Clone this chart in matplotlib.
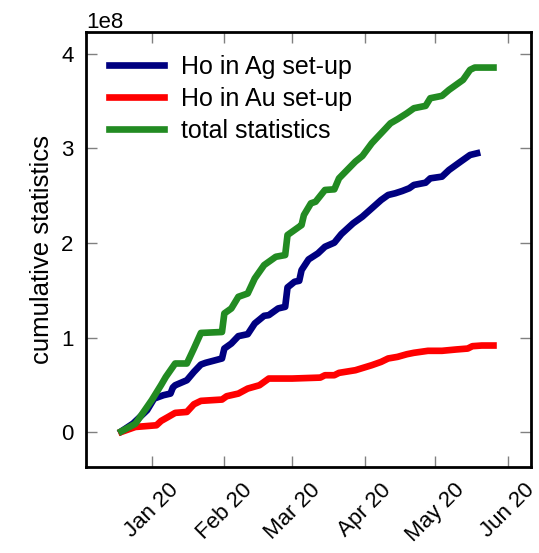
import numpy as np
import pandas as pd
import matplotlib
matplotlib.use("Agg")
from matplotlib import pyplot as plt
import matplotlib.dates as mdates

plt.rcParams['font.family'] = ['Liberation Sans', 'DejaVu Sans']

# cumulative statistics, in units of 1e8 events
ag_dates = ['2019-12-19', '2019-12-24', '2019-12-30', '2020-01-02', '2020-01-06',
            '2020-01-09', '2020-01-10', '2020-01-11', '2020-01-16', '2020-01-19',
            '2020-01-22', '2020-01-24', '2020-01-31', '2020-02-01', '2020-02-04',
            '2020-02-07', '2020-02-11', '2020-02-14', '2020-02-18', '2020-02-20',
            '2020-02-24', '2020-02-27', '2020-02-28', '2020-03-02', '2020-03-04',
            '2020-03-05', '2020-03-08', '2020-03-12', '2020-03-15', '2020-03-19',
            '2020-03-22', '2020-03-27', '2020-03-31', '2020-04-04', '2020-04-08',
            '2020-04-11', '2020-04-14', '2020-04-17', '2020-04-20', '2020-04-22',
            '2020-04-27', '2020-04-29', '2020-05-04', '2020-05-07', '2020-05-12',
            '2020-05-16', '2020-05-19']
ag_vals = [0.01, 0.092, 0.233, 0.356, 0.392, 0.409, 0.473, 0.497, 0.55, 0.638,
           0.716, 0.734, 0.78, 0.885, 0.938, 1.016, 1.037, 1.15, 1.231, 1.238,
           1.309, 1.326, 1.531, 1.591, 1.601, 1.714, 1.827, 1.891, 1.961, 2.004,
           2.095, 2.208, 2.279, 2.367, 2.455, 2.508, 2.526, 2.55, 2.579, 2.614,
           2.638, 2.684, 2.702, 2.772, 2.861, 2.931, 2.949]

au_dates = ['2019-12-19', '2019-12-25', '2020-01-03', '2020-01-05', '2020-01-08',
            '2020-01-11', '2020-01-16', '2020-01-19', '2020-01-22', '2020-01-31',
            '2020-02-02', '2020-02-07', '2020-02-11', '2020-02-16', '2020-02-20',
            '2020-03-01', '2020-03-13', '2020-03-15', '2020-03-19', '2020-03-21',
            '2020-03-28', '2020-04-04', '2020-04-08', '2020-04-11', '2020-04-15',
            '2020-04-19', '2020-04-22', '2020-04-28', '2020-05-04', '2020-05-10',
            '2020-05-15', '2020-05-17', '2020-05-21', '2020-05-26']
au_vals = [0.004, 0.056, 0.074, 0.12, 0.162, 0.205, 0.215, 0.296, 0.332, 0.346,
           0.381, 0.409, 0.462, 0.497, 0.568, 0.568, 0.578, 0.603, 0.603, 0.628,
           0.656, 0.709, 0.744, 0.78, 0.797, 0.825, 0.84, 0.861, 0.861, 0.875,
           0.885, 0.91, 0.917, 0.917]

tot_dates = ['2019-12-19', '2019-12-25', '2020-01-01', '2020-01-05', '2020-01-07',
             '2020-01-11', '2020-01-16', '2020-01-19', '2020-01-22', '2020-01-31',
             '2020-02-01', '2020-02-04', '2020-02-07', '2020-02-11', '2020-02-14',
             '2020-02-18', '2020-02-23', '2020-02-27', '2020-02-28', '2020-03-04',
             '2020-03-05', '2020-03-06', '2020-03-09', '2020-03-11', '2020-03-15',
             '2020-03-19', '2020-03-21', '2020-03-28', '2020-03-31', '2020-04-04',
             '2020-04-06', '2020-04-10', '2020-04-12', '2020-04-15', '2020-04-19',
             '2020-04-22', '2020-04-27', '2020-04-29', '2020-05-04', '2020-05-07',
             '2020-05-13', '2020-05-16', '2020-05-18', '2020-05-26']
tot_vals = [0.01, 0.09, 0.34, 0.50, 0.585, 0.727, 0.727, 0.885, 1.05, 1.06,
            1.256, 1.309, 1.432, 1.467, 1.626, 1.767, 1.855, 1.873, 2.085, 2.173,
            2.19, 2.296, 2.42, 2.437, 2.561, 2.568, 2.684, 2.861, 2.921, 3.055,
            3.108, 3.213, 3.266, 3.309, 3.372, 3.425, 3.45, 3.531, 3.556, 3.619,
            3.725, 3.831, 3.855, 3.855]

fig, ax = plt.subplots(figsize=(5.39, 5.53), dpi=100)
fig.subplots_adjust(left=0.16, right=0.985, top=0.942, bottom=0.155)

ax.plot(pd.to_datetime(ag_dates), np.array(ag_vals) * 1e8, color='navy', lw=4.8,
        label='Ho in Ag set-up')
ax.plot(pd.to_datetime(au_dates), np.array(au_vals) * 1e8, color='red', lw=4.8,
        label='Ho in Au set-up')
ax.plot(pd.to_datetime(tot_dates), np.array(tot_vals) * 1e8, color='forestgreen', lw=4.8,
        label='total statistics')

ax.set_xlim(pd.Timestamp('2019-12-04'), pd.Timestamp('2020-06-11'))
ax.set_ylim(-0.37e8, 4.23e8)
ax.set_yticks([0, 1e8, 2e8, 3e8, 4e8])
ax.xaxis.set_major_locator(mdates.MonthLocator())
ax.xaxis.set_major_formatter(mdates.DateFormatter('%b %y'))

ax.tick_params(direction='in', length=8, width=1, color='gray', labelsize=16,
               top=True, right=True, pad=9)
plt.setp(ax.get_xticklabels(), rotation=45, ha='center')
ax.yaxis.get_offset_text().set_fontsize(16)
for s in ax.spines.values():
    s.set_linewidth(2)

ax.set_ylabel('cumulative statistics', fontsize=18.5, labelpad=5)
ax.legend(loc='upper left', fontsize=18, frameon=False, handlelength=2.2,
          handletextpad=0.7, labelspacing=0.32, borderaxespad=0.5)

fig.savefig('out.png')
